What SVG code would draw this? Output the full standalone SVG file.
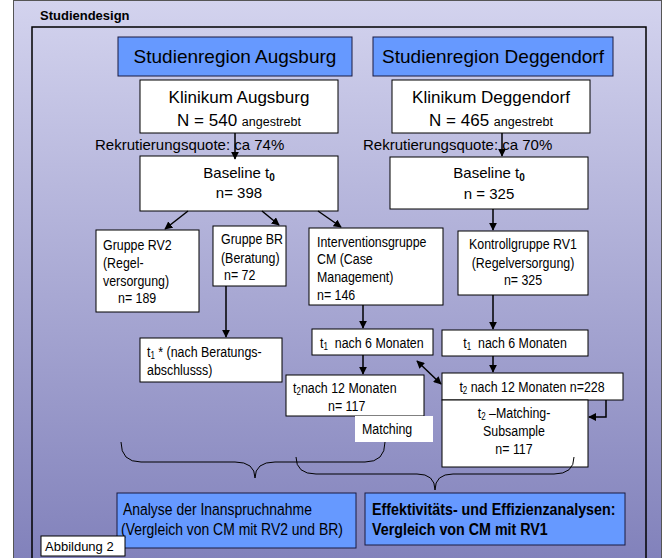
<svg xmlns="http://www.w3.org/2000/svg" width="665" height="558" viewBox="0 0 665 558">
<defs>
<linearGradient id="bg" x1="0" y1="0" x2="0" y2="1">
<stop offset="0" stop-color="#d3d3ee"/>
<stop offset="1" stop-color="#8080ba"/>
</linearGradient>
<marker id="ah" viewBox="0 0 10 10" refX="9" refY="5" markerWidth="8" markerHeight="8" markerUnits="userSpaceOnUse" orient="auto-start-reverse">
<path d="M0,0 L10,5 L0,10 z" fill="#000"/>
</marker>
<style>
.b{fill:#6699ff;stroke:#1a1a40;stroke-width:1}
.w{fill:#fff;stroke:#000;stroke-width:1}
.a{font-family:"Liberation Sans",Arial,sans-serif;fill:#000}
.n{font-family:"Liberation Sans",Arial,sans-serif;font-size:15.5px;fill:#000}
.L{font-family:"Liberation Sans",Arial,sans-serif;font-size:17px;fill:#000}
.m{text-anchor:middle}
.c{stroke:#000;stroke-width:1.5;fill:none}
.br{stroke:#000;stroke-width:1;fill:none}
</style>
</defs>
<rect x="0" y="0" width="665" height="558" fill="#fff"/>
<rect x="13.5" y="0.5" width="648" height="570" fill="url(#bg)" stroke="#555" stroke-width="1"/>
<text class="a" x="40" y="20" font-size="13" font-weight="bold">Studiendesign</text>
<rect x="32" y="27" width="614" height="560" fill="none" stroke="#000" stroke-width="1.5"/>

<g id="region-augsburg"><rect class="b" x="118" y="37" width="234" height="39"/><text class="a" x="235" y="63" font-size="19" text-anchor="middle">Studienregion Augsburg</text></g>
<g id="region-deggendorf"><rect class="b" x="373" y="37" width="240" height="39"/><text class="a" x="493" y="63" font-size="19" text-anchor="middle">Studienregion Deggendorf</text></g>

<g id="klinikum-augsburg"><rect class="w" x="140" y="80" width="198" height="53"/><text class="a" x="239" y="103" font-size="17" text-anchor="middle">Klinikum Augsburg</text><text class="a" x="239" y="126" font-size="17" text-anchor="middle">N = 540 <tspan font-size="12.5">angestrebt</tspan></text></g>
<g id="klinikum-deggendorf"><rect class="w" x="392" y="80" width="198" height="53"/><text class="a" x="491" y="103" font-size="17" text-anchor="middle">Klinikum Deggendorf</text><text class="a" x="491" y="126" font-size="17" text-anchor="middle">N = 465 <tspan font-size="12.5">angestrebt</tspan></text></g>

<text class="a" x="95" y="150" font-size="15">Rekrutierungsquote: ca 74%</text>
<text class="a" x="363" y="150" font-size="15">Rekrutierungsquote: ca 70%</text>

<g id="baseline-augsburg"><rect class="w" x="140" y="156" width="198" height="55"/><text class="a" x="239" y="178" font-size="15" text-anchor="middle">Baseline t<tspan font-size="10" font-weight="bold" dy="3">0</tspan></text><text class="a" x="239" y="198" font-size="15" text-anchor="middle">n= 398</text></g>
<g id="baseline-deggendorf"><rect class="w" x="390" y="157" width="198" height="52"/><text class="a" x="489" y="178" font-size="15" text-anchor="middle">Baseline t<tspan font-size="10" font-weight="bold" dy="3">0</tspan></text><text class="a" x="489" y="199" font-size="15" text-anchor="middle">n = 325</text></g>

<g id="gruppe-rv2"><rect class="w" x="96" y="230" width="103" height="82"/>
<text class="n" transform="translate(103,250) scale(.8,1)">Gruppe RV2</text>
<text class="n" transform="translate(103,268) scale(.8,1)">(Regel-</text>
<text class="n" transform="translate(103,286) scale(.8,1)">versorgung)</text>
<text class="n" transform="translate(118,303) scale(.8,1)">n= 189</text></g>
<g id="gruppe-br"><rect class="w" x="213" y="226" width="73" height="60"/>
<text class="n" transform="translate(221,244) scale(.8,1)">Gruppe BR</text>
<text class="n" transform="translate(221,263) scale(.8,1)">(Beratung)</text>
<text class="n" transform="translate(224,280) scale(.8,1)">n= 72</text></g>
<g id="interventionsgruppe"><rect class="w" x="309" y="228" width="134" height="77"/>
<text class="n" transform="translate(317,247) scale(.8,1)">Interventionsgruppe</text>
<text class="n" transform="translate(317,264) scale(.8,1)">CM (Case</text>
<text class="n" transform="translate(317,282) scale(.8,1)">Management)</text>
<text class="n" transform="translate(317,300) scale(.8,1)">n= 146</text></g>
<g id="kontrollgruppe"><rect class="w" x="458" y="231" width="130" height="64"/>
<text class="n m" transform="translate(523,249) scale(.8,1)">Kontrollgruppe RV1</text>
<text class="n m" transform="translate(523,268) scale(.8,1)">(Regelversorgung)</text>
<text class="n m" transform="translate(523,285) scale(.8,1)">n= 325</text></g>

<g id="t1-br"><rect class="w" x="140" y="338" width="142" height="44"/>
<text class="n" transform="translate(147,357) scale(.8,1)">t<tspan font-size="10" dy="2">1</tspan><tspan dy="-2"> * (nach Beratungs-</tspan></text>
<text class="n" transform="translate(147,375) scale(.8,1)">abschlusss)</text></g>
<g id="t1-cm"><rect class="w" x="312" y="329" width="121" height="26"/>
<text class="n" transform="translate(320,348) scale(.8,1)">t<tspan font-size="10" dy="2">1</tspan><tspan dy="-2" xml:space="preserve">  nach 6 Monaten</tspan></text></g>
<g id="t2-cm"><rect class="w" x="286" y="375" width="138" height="41"/>
<text class="n" transform="translate(293,393) scale(.8,1)">t<tspan font-size="10" dy="2">2</tspan><tspan dy="-2">nach 12 Monaten</tspan></text>
<text class="n" transform="translate(328,411) scale(.8,1)">n= 117</text></g>
<g id="matching"><rect x="355" y="416" width="78" height="26" fill="#fff"/>
<text class="n" transform="translate(362,434) scale(.8,1)">Matching</text></g>
<g id="t1-rv1"><rect class="w" x="442" y="330" width="146" height="26"/>
<text class="n m" transform="translate(515,348) scale(.8,1)">t<tspan font-size="10" dy="2">1</tspan><tspan dy="-2" xml:space="preserve">  nach 6 Monaten</tspan></text></g>
<g id="t2-rv1"><rect class="w" x="442" y="373" width="181" height="27"/>
<text class="n m" transform="translate(532,392) scale(.8,1)">t<tspan font-size="10" dy="2">2</tspan><tspan dy="-2"> nach 12 Monaten n=228</tspan></text></g>
<g id="t2-subsample"><rect class="w" x="442" y="400" width="146" height="67"/>
<text class="n m" transform="translate(514,418) scale(.8,1)">t<tspan font-size="10" dy="2">2</tspan><tspan dy="-2"> –Matching-</tspan></text>
<text class="n m" transform="translate(514,436) scale(.8,1)">Subsample</text>
<text class="n m" transform="translate(514,454) scale(.8,1)">n= 117</text></g>

<g id="analyse"><rect class="b" x="117" y="493" width="239" height="55"/>
<text class="L" transform="translate(123,515) scale(.82,1)">Analyse der Inanspruchnahme</text>
<text class="L" transform="translate(121,535) scale(.82,1)">(Vergleich von CM mit RV2 und BR)</text></g>
<g id="effektivitaet"><rect class="b" x="365" y="493" width="260" height="52"/>
<text class="L" font-weight="bold" transform="translate(372,515) scale(.84,1)">Effektivitäts- und Effizienzanalysen:</text>
<text class="L" font-weight="bold" transform="translate(372,535) scale(.84,1)">Vergleich von CM mit RV1</text></g>
<g id="abbildung"><rect x="41" y="536" width="84" height="20" fill="#fff" stroke="#000" stroke-width="1"/><text class="a" x="45" y="551" font-size="13">Abbildung 2</text></g>

<g id="connectors">
<path class="c" d="M235,133 V159" marker-end="url(#ah)"/>
<path class="c" d="M502,133 V156" marker-end="url(#ah)"/>
<path class="c" d="M188,211 L165,229" marker-end="url(#ah)"/>
<path class="c" d="M262,211 L279,225" marker-end="url(#ah)"/>
<path class="c" d="M318,211 L341,227" marker-end="url(#ah)"/>
<path class="c" d="M493,209 V230" marker-end="url(#ah)"/>
<path class="c" d="M226,286 V337" marker-end="url(#ah)"/>
<path class="c" d="M363,305 V328" marker-end="url(#ah)"/>
<path class="c" d="M363,355 V374" marker-end="url(#ah)"/>
<path class="c" d="M493,295 V329" marker-end="url(#ah)"/>
<path class="c" d="M493,356 V372" marker-end="url(#ah)"/>
<path class="c" d="M417,361 L441,384" marker-start="url(#ah)" marker-end="url(#ah)"/>
<path class="c" d="M606,400 V417 H589" marker-end="url(#ah)"/>
<path class="br" d="M121,442 Q121,462 141,462 L235,462 Q255,462 255,478 Q255,462 275,462 L365,462 Q385,462 385,442"/>
<path class="br" d="M296,457 Q296,474 316,474 L417,474 Q435,474 435,490 Q435,474 453,474 L554,474 Q574,474 574,457"/>
</g>
</svg>
